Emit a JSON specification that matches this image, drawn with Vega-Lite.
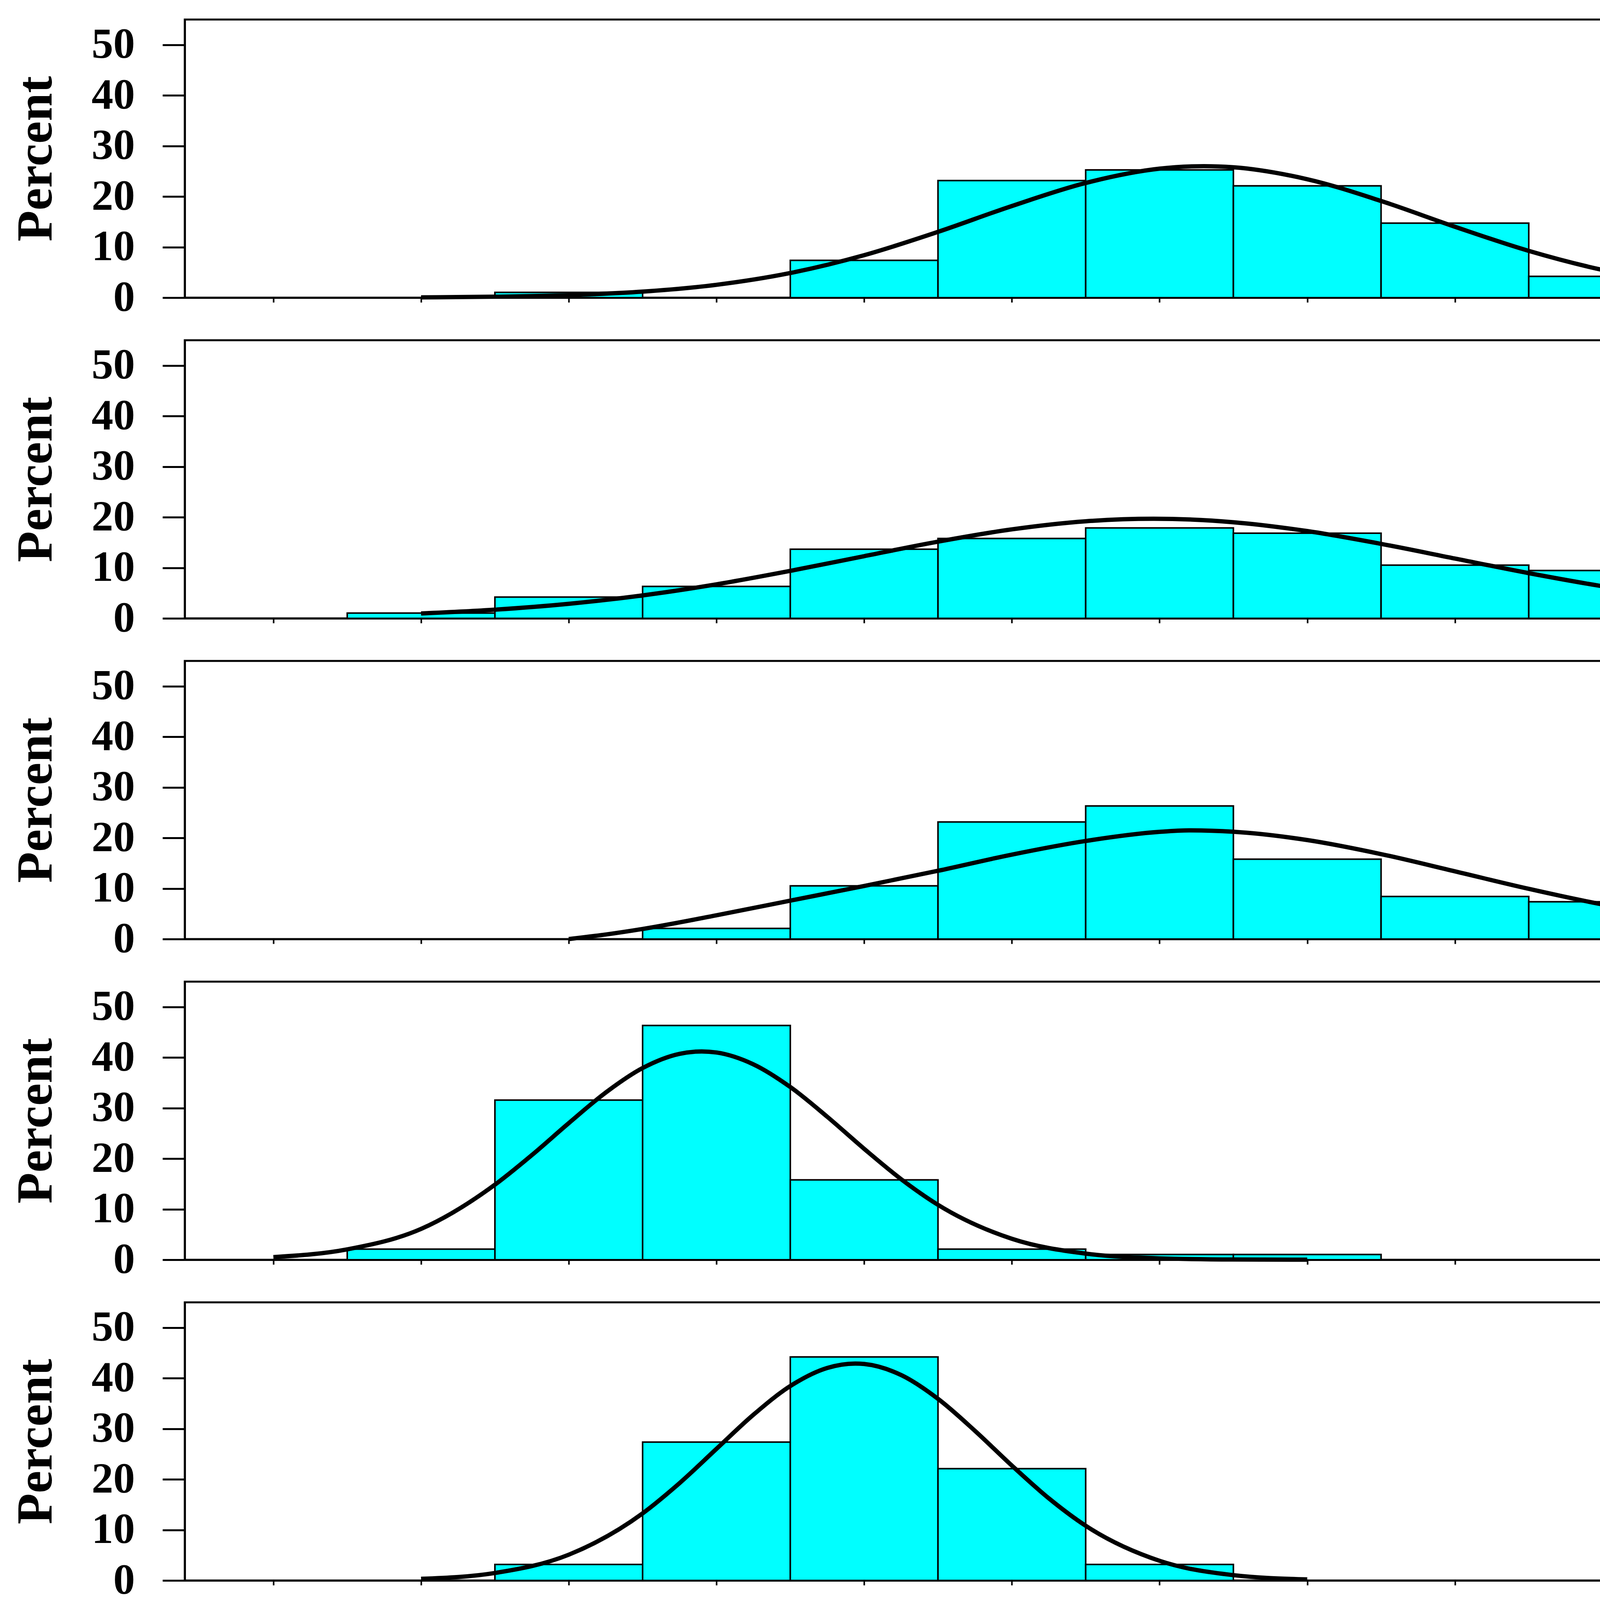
{
  "$schema": "https://vega.github.io/schema/vega-lite/v6.json",
  "background": "white",
  "padding": {"left": 24, "top": 47, "right": 20, "bottom": 10},
  "config": {
    "font": "Liberation Serif",
    "view": {"stroke": "black", "strokeWidth": 5},
    "concat": {"spacing": 48},
    "axis": {
      "grid": false,
      "domainColor": "black",
      "domainWidth": 5,
      "tickColor": "black",
      "labelColor": "black",
      "titleColor": "black",
      "labelFont": "Liberation Serif",
      "titleFont": "Liberation Serif",
      "labelFontWeight": "bold",
      "titleFontWeight": "bold",
      "labelLimit": 0,
      "format": "d"
    }
  },
  "datasets": {
    "bars": [
      {"year": 2013, "lo": 17.5, "hi": 22.5, "pct": 1.05},
      {"year": 2013, "lo": 27.5, "hi": 32.5, "pct": 7.37},
      {"year": 2013, "lo": 32.5, "hi": 37.5, "pct": 23.16},
      {"year": 2013, "lo": 37.5, "hi": 42.5, "pct": 25.26},
      {"year": 2013, "lo": 42.5, "hi": 47.5, "pct": 22.11},
      {"year": 2013, "lo": 47.5, "hi": 52.5, "pct": 14.74},
      {"year": 2013, "lo": 52.5, "hi": 57.5, "pct": 4.21},
      {"year": 2013, "lo": 62.5, "hi": 67.5, "pct": 1.05},
      {"year": 2013, "lo": 67.5, "hi": 72.5, "pct": 1.05},
      {"year": 2014, "lo": 12.5, "hi": 17.5, "pct": 1.05},
      {"year": 2014, "lo": 17.5, "hi": 22.5, "pct": 4.21},
      {"year": 2014, "lo": 22.5, "hi": 27.5, "pct": 6.32},
      {"year": 2014, "lo": 27.5, "hi": 32.5, "pct": 13.68},
      {"year": 2014, "lo": 32.5, "hi": 37.5, "pct": 15.79},
      {"year": 2014, "lo": 37.5, "hi": 42.5, "pct": 17.89},
      {"year": 2014, "lo": 42.5, "hi": 47.5, "pct": 16.84},
      {"year": 2014, "lo": 47.5, "hi": 52.5, "pct": 10.53},
      {"year": 2014, "lo": 52.5, "hi": 57.5, "pct": 9.47},
      {"year": 2014, "lo": 57.5, "hi": 62.5, "pct": 4.21},
      {"year": 2015, "lo": 22.5, "hi": 27.5, "pct": 2.11},
      {"year": 2015, "lo": 27.5, "hi": 32.5, "pct": 10.53},
      {"year": 2015, "lo": 32.5, "hi": 37.5, "pct": 23.16},
      {"year": 2015, "lo": 37.5, "hi": 42.5, "pct": 26.32},
      {"year": 2015, "lo": 42.5, "hi": 47.5, "pct": 15.79},
      {"year": 2015, "lo": 47.5, "hi": 52.5, "pct": 8.42},
      {"year": 2015, "lo": 52.5, "hi": 57.5, "pct": 7.37},
      {"year": 2015, "lo": 57.5, "hi": 62.5, "pct": 4.21},
      {"year": 2015, "lo": 62.5, "hi": 67.5, "pct": 1.05},
      {"year": 2015, "lo": 67.5, "hi": 72.5, "pct": 1.05},
      {"year": 2016, "lo": 12.5, "hi": 17.5, "pct": 2.11},
      {"year": 2016, "lo": 17.5, "hi": 22.5, "pct": 31.58},
      {"year": 2016, "lo": 22.5, "hi": 27.5, "pct": 46.32},
      {"year": 2016, "lo": 27.5, "hi": 32.5, "pct": 15.79},
      {"year": 2016, "lo": 32.5, "hi": 37.5, "pct": 2.11},
      {"year": 2016, "lo": 37.5, "hi": 42.5, "pct": 1.05},
      {"year": 2016, "lo": 42.5, "hi": 47.5, "pct": 1.05},
      {"year": 2017, "lo": 17.5, "hi": 22.5, "pct": 3.16},
      {"year": 2017, "lo": 22.5, "hi": 27.5, "pct": 27.37},
      {"year": 2017, "lo": 27.5, "hi": 32.5, "pct": 44.21},
      {"year": 2017, "lo": 32.5, "hi": 37.5, "pct": 22.11},
      {"year": 2017, "lo": 37.5, "hi": 42.5, "pct": 3.16}
    ],
    "curve": [
      {"year": 2013, "x": 15, "y": 0.06},
      {"year": 2013, "x": 17.5, "y": 0.19},
      {"year": 2013, "x": 20, "y": 0.5},
      {"year": 2013, "x": 22.5, "y": 1.19},
      {"year": 2013, "x": 25, "y": 2.54},
      {"year": 2013, "x": 27.5, "y": 4.87},
      {"year": 2013, "x": 30, "y": 8.4},
      {"year": 2013, "x": 32.5, "y": 13.01},
      {"year": 2013, "x": 35, "y": 18.12},
      {"year": 2013, "x": 37.5, "y": 22.68},
      {"year": 2013, "x": 40, "y": 25.51},
      {"year": 2013, "x": 41.5, "y": 26.0},
      {"year": 2013, "x": 42.5, "y": 25.78},
      {"year": 2013, "x": 45, "y": 23.42},
      {"year": 2013, "x": 47.5, "y": 19.12},
      {"year": 2013, "x": 50, "y": 14.02},
      {"year": 2013, "x": 52.5, "y": 9.25},
      {"year": 2013, "x": 55, "y": 5.48},
      {"year": 2013, "x": 57.5, "y": 2.92},
      {"year": 2013, "x": 60, "y": 1.4},
      {"year": 2013, "x": 62.5, "y": 0.6},
      {"year": 2013, "x": 65, "y": 0.23},
      {"year": 2013, "x": 67.5, "y": 0.08},
      {"year": 2013, "x": 70, "y": 0.03},
      {"year": 2013, "x": 72.5, "y": 0.01},
      {"year": 2013, "x": 75, "y": 0.0},
      {"year": 2014, "x": 15, "y": 0.97},
      {"year": 2014, "x": 17.5, "y": 1.72},
      {"year": 2014, "x": 20, "y": 2.88},
      {"year": 2014, "x": 22.5, "y": 4.54},
      {"year": 2014, "x": 25, "y": 6.73},
      {"year": 2014, "x": 27.5, "y": 9.39},
      {"year": 2014, "x": 30, "y": 12.3},
      {"year": 2014, "x": 32.5, "y": 15.17},
      {"year": 2014, "x": 35, "y": 17.6},
      {"year": 2014, "x": 37.5, "y": 19.2},
      {"year": 2014, "x": 39.8, "y": 19.7},
      {"year": 2014, "x": 42.5, "y": 19.01},
      {"year": 2014, "x": 45, "y": 17.26},
      {"year": 2014, "x": 47.5, "y": 14.73},
      {"year": 2014, "x": 50, "y": 11.83},
      {"year": 2014, "x": 52.5, "y": 8.94},
      {"year": 2014, "x": 55, "y": 6.35},
      {"year": 2014, "x": 57.5, "y": 4.24},
      {"year": 2014, "x": 60, "y": 2.67},
      {"year": 2014, "x": 62.5, "y": 1.58},
      {"year": 2014, "x": 65, "y": 0.88},
      {"year": 2015, "x": 20, "y": 0.0},
      {"year": 2015, "x": 21.25, "y": 0.9},
      {"year": 2015, "x": 22.5, "y": 2.0},
      {"year": 2015, "x": 25, "y": 4.7},
      {"year": 2015, "x": 27.5, "y": 7.6},
      {"year": 2015, "x": 30, "y": 10.5},
      {"year": 2015, "x": 32.5, "y": 13.5},
      {"year": 2015, "x": 35, "y": 16.7},
      {"year": 2015, "x": 37.5, "y": 19.4},
      {"year": 2015, "x": 40, "y": 21.2},
      {"year": 2015, "x": 41, "y": 21.5},
      {"year": 2015, "x": 42.5, "y": 21.22},
      {"year": 2015, "x": 45, "y": 19.58},
      {"year": 2015, "x": 47.5, "y": 16.8},
      {"year": 2015, "x": 50, "y": 13.39},
      {"year": 2015, "x": 52.5, "y": 9.93},
      {"year": 2015, "x": 55, "y": 6.84},
      {"year": 2015, "x": 57.5, "y": 4.38},
      {"year": 2015, "x": 60, "y": 2.61},
      {"year": 2015, "x": 62.5, "y": 1.44},
      {"year": 2015, "x": 65, "y": 0.74},
      {"year": 2015, "x": 67.5, "y": 0.35},
      {"year": 2015, "x": 70, "y": 0.16},
      {"year": 2016, "x": 10, "y": 0.52},
      {"year": 2016, "x": 12.5, "y": 2.06},
      {"year": 2016, "x": 15, "y": 6.1},
      {"year": 2016, "x": 17.5, "y": 14.85},
      {"year": 2016, "x": 18.75, "y": 20.7},
      {"year": 2016, "x": 20, "y": 27.02},
      {"year": 2016, "x": 21.25, "y": 33.06},
      {"year": 2016, "x": 22.5, "y": 37.91},
      {"year": 2016, "x": 23.75, "y": 40.72},
      {"year": 2016, "x": 24.5, "y": 41.2},
      {"year": 2016, "x": 25, "y": 40.99},
      {"year": 2016, "x": 26.25, "y": 38.65},
      {"year": 2016, "x": 27.5, "y": 34.16},
      {"year": 2016, "x": 28.75, "y": 28.28},
      {"year": 2016, "x": 30, "y": 21.94},
      {"year": 2016, "x": 31.25, "y": 15.95},
      {"year": 2016, "x": 32.5, "y": 10.86},
      {"year": 2016, "x": 35, "y": 4.15},
      {"year": 2016, "x": 37.5, "y": 1.22},
      {"year": 2016, "x": 40, "y": 0.28},
      {"year": 2016, "x": 42.5, "y": 0.05},
      {"year": 2016, "x": 45, "y": 0.01},
      {"year": 2017, "x": 15, "y": 0.32},
      {"year": 2017, "x": 17.5, "y": 1.48},
      {"year": 2017, "x": 20, "y": 5.1},
      {"year": 2017, "x": 22.5, "y": 13.27},
      {"year": 2017, "x": 23.75, "y": 19.25},
      {"year": 2017, "x": 25, "y": 26.02},
      {"year": 2017, "x": 26.25, "y": 32.77},
      {"year": 2017, "x": 27.5, "y": 38.45},
      {"year": 2017, "x": 28.75, "y": 42.03},
      {"year": 2017, "x": 29.7, "y": 42.9},
      {"year": 2017, "x": 30, "y": 42.81},
      {"year": 2017, "x": 31.25, "y": 40.63},
      {"year": 2017, "x": 32.5, "y": 35.92},
      {"year": 2017, "x": 33.75, "y": 29.6},
      {"year": 2017, "x": 35, "y": 22.72},
      {"year": 2017, "x": 36.25, "y": 16.25},
      {"year": 2017, "x": 37.5, "y": 10.82},
      {"year": 2017, "x": 40, "y": 3.89},
      {"year": 2017, "x": 42.5, "y": 1.05},
      {"year": 2017, "x": 45, "y": 0.21}
    ],
    "stats": [
      {"year": 2013, "labels": "Year\nN\nMean\nStd Dev", "values": "2013\n95\n42\n7.6"},
      {"year": 2014, "labels": "Year\nN\nMean\nStd Dev", "values": "2014\n95\n40\n10.1"},
      {"year": 2015, "labels": "Year\nN\nMean\nStd Dev", "values": "2015\n95\n42\n9.2"},
      {"year": 2016, "labels": "Year\nN\nMean\nStd Dev", "values": "2016\n95\n24\n4.6"},
      {"year": 2017, "labels": "Year\nN\nMean\nStd Dev", "values": "2017\n95\n30\n4.4"}
    ]
  },
  "vconcat": [
    {
      "width": 5747, "height": 712,
      "layer": [
        {"data": {"name": "bars"}, "transform": [{"filter": "datum.year == 2013"}],
         "mark": {"type": "rect", "fill": "#00FFFF", "stroke": "black", "strokeWidth": 4},
         "encoding": {
           "x": {"field": "lo", "type": "quantitative", "scale": {"domain": [7, 83], "nice": false, "zero": false},
                 "axis": {"values": [10,15,20,25,30,35,40,45,50,55,60,65,70,75,80], "labels": false, "title": null, "tickSize": 12, "tickWidth": 4}},
           "x2": {"field": "hi"},
           "y": {"field": "pct", "type": "quantitative", "scale": {"domain": [0, 55], "nice": false},
                 "axis": {"values": [0,10,20,30,40,50], "title": "Percent", "tickSize": 57, "tickWidth": 5, "labelFontSize": 111, "labelPadding": 71, "titleFontSize": 130, "titlePadding": 115}},
           "y2": {"datum": 0}
         }},
        {"data": {"name": "curve"}, "transform": [{"filter": "datum.year == 2013"}],
         "mark": {"type": "line", "color": "black", "strokeWidth": 11, "interpolate": "monotone"},
         "encoding": {"x": {"field": "x", "type": "quantitative"}, "y": {"field": "y", "type": "quantitative"}}},
        {"data": {"name": "stats"}, "transform": [{"filter": "datum.year == 2013"}],
         "mark": {"type": "text", "align": "left", "baseline": "alphabetic", "lineBreak": "\n", "lineHeight": 131, "fontSize": 113, "fontWeight": "bold", "color": "black"},
         "encoding": {"x": {"datum": 72.45}, "y": {"datum": 43.9}, "text": {"field": "labels"}}},
        {"data": {"name": "stats"}, "transform": [{"filter": "datum.year == 2013"}],
         "mark": {"type": "text", "align": "right", "baseline": "alphabetic", "lineBreak": "\n", "lineHeight": 131, "fontSize": 113, "fontWeight": "bold", "color": "black"},
         "encoding": {"x": {"datum": 81.3}, "y": {"datum": 43.9}, "text": {"field": "values"}}}
      ]
    },
    {
      "width": 5747, "height": 712,
      "layer": [
        {"data": {"name": "bars"}, "transform": [{"filter": "datum.year == 2014"}],
         "mark": {"type": "rect", "fill": "#00FFFF", "stroke": "black", "strokeWidth": 4},
         "encoding": {
           "x": {"field": "lo", "type": "quantitative", "scale": {"domain": [7, 83], "nice": false, "zero": false},
                 "axis": {"values": [10,15,20,25,30,35,40,45,50,55,60,65,70,75,80], "labels": false, "title": null, "tickSize": 12, "tickWidth": 4}},
           "x2": {"field": "hi"},
           "y": {"field": "pct", "type": "quantitative", "scale": {"domain": [0, 55], "nice": false},
                 "axis": {"values": [0,10,20,30,40,50], "title": "Percent", "tickSize": 57, "tickWidth": 5, "labelFontSize": 111, "labelPadding": 71, "titleFontSize": 130, "titlePadding": 115}},
           "y2": {"datum": 0}
         }},
        {"data": {"name": "curve"}, "transform": [{"filter": "datum.year == 2014"}],
         "mark": {"type": "line", "color": "black", "strokeWidth": 11, "interpolate": "monotone"},
         "encoding": {"x": {"field": "x", "type": "quantitative"}, "y": {"field": "y", "type": "quantitative"}}},
        {"data": {"name": "stats"}, "transform": [{"filter": "datum.year == 2014"}],
         "mark": {"type": "text", "align": "left", "baseline": "alphabetic", "lineBreak": "\n", "lineHeight": 131, "fontSize": 113, "fontWeight": "bold", "color": "black"},
         "encoding": {"x": {"datum": 72.45}, "y": {"datum": 43.9}, "text": {"field": "labels"}}},
        {"data": {"name": "stats"}, "transform": [{"filter": "datum.year == 2014"}],
         "mark": {"type": "text", "align": "right", "baseline": "alphabetic", "lineBreak": "\n", "lineHeight": 131, "fontSize": 113, "fontWeight": "bold", "color": "black"},
         "encoding": {"x": {"datum": 81.3}, "y": {"datum": 43.9}, "text": {"field": "values"}}}
      ]
    },
    {
      "width": 5747, "height": 712,
      "layer": [
        {"data": {"name": "bars"}, "transform": [{"filter": "datum.year == 2015"}],
         "mark": {"type": "rect", "fill": "#00FFFF", "stroke": "black", "strokeWidth": 4},
         "encoding": {
           "x": {"field": "lo", "type": "quantitative", "scale": {"domain": [7, 83], "nice": false, "zero": false},
                 "axis": {"values": [10,15,20,25,30,35,40,45,50,55,60,65,70,75,80], "labels": false, "title": null, "tickSize": 12, "tickWidth": 4}},
           "x2": {"field": "hi"},
           "y": {"field": "pct", "type": "quantitative", "scale": {"domain": [0, 55], "nice": false},
                 "axis": {"values": [0,10,20,30,40,50], "title": "Percent", "tickSize": 57, "tickWidth": 5, "labelFontSize": 111, "labelPadding": 71, "titleFontSize": 130, "titlePadding": 115}},
           "y2": {"datum": 0}
         }},
        {"data": {"name": "curve"}, "transform": [{"filter": "datum.year == 2015"}],
         "mark": {"type": "line", "color": "black", "strokeWidth": 11, "interpolate": "monotone"},
         "encoding": {"x": {"field": "x", "type": "quantitative"}, "y": {"field": "y", "type": "quantitative"}}},
        {"data": {"name": "stats"}, "transform": [{"filter": "datum.year == 2015"}],
         "mark": {"type": "text", "align": "left", "baseline": "alphabetic", "lineBreak": "\n", "lineHeight": 131, "fontSize": 113, "fontWeight": "bold", "color": "black"},
         "encoding": {"x": {"datum": 72.45}, "y": {"datum": 43.9}, "text": {"field": "labels"}}},
        {"data": {"name": "stats"}, "transform": [{"filter": "datum.year == 2015"}],
         "mark": {"type": "text", "align": "right", "baseline": "alphabetic", "lineBreak": "\n", "lineHeight": 131, "fontSize": 113, "fontWeight": "bold", "color": "black"},
         "encoding": {"x": {"datum": 81.3}, "y": {"datum": 43.9}, "text": {"field": "values"}}}
      ]
    },
    {
      "width": 5747, "height": 712,
      "layer": [
        {"data": {"name": "bars"}, "transform": [{"filter": "datum.year == 2016"}],
         "mark": {"type": "rect", "fill": "#00FFFF", "stroke": "black", "strokeWidth": 4},
         "encoding": {
           "x": {"field": "lo", "type": "quantitative", "scale": {"domain": [7, 83], "nice": false, "zero": false},
                 "axis": {"values": [10,15,20,25,30,35,40,45,50,55,60,65,70,75,80], "labels": false, "title": null, "tickSize": 12, "tickWidth": 4}},
           "x2": {"field": "hi"},
           "y": {"field": "pct", "type": "quantitative", "scale": {"domain": [0, 55], "nice": false},
                 "axis": {"values": [0,10,20,30,40,50], "title": "Percent", "tickSize": 57, "tickWidth": 5, "labelFontSize": 111, "labelPadding": 71, "titleFontSize": 130, "titlePadding": 115}},
           "y2": {"datum": 0}
         }},
        {"data": {"name": "curve"}, "transform": [{"filter": "datum.year == 2016"}],
         "mark": {"type": "line", "color": "black", "strokeWidth": 11, "interpolate": "monotone"},
         "encoding": {"x": {"field": "x", "type": "quantitative"}, "y": {"field": "y", "type": "quantitative"}}},
        {"data": {"name": "stats"}, "transform": [{"filter": "datum.year == 2016"}],
         "mark": {"type": "text", "align": "left", "baseline": "alphabetic", "lineBreak": "\n", "lineHeight": 131, "fontSize": 113, "fontWeight": "bold", "color": "black"},
         "encoding": {"x": {"datum": 72.45}, "y": {"datum": 43.9}, "text": {"field": "labels"}}},
        {"data": {"name": "stats"}, "transform": [{"filter": "datum.year == 2016"}],
         "mark": {"type": "text", "align": "right", "baseline": "alphabetic", "lineBreak": "\n", "lineHeight": 131, "fontSize": 113, "fontWeight": "bold", "color": "black"},
         "encoding": {"x": {"datum": 81.3}, "y": {"datum": 43.9}, "text": {"field": "values"}}}
      ]
    },
    {
      "width": 5747, "height": 712,
      "layer": [
        {"data": {"name": "bars"}, "transform": [{"filter": "datum.year == 2017"}],
         "mark": {"type": "rect", "fill": "#00FFFF", "stroke": "black", "strokeWidth": 4},
         "encoding": {
           "x": {"field": "lo", "type": "quantitative", "scale": {"domain": [7, 83], "nice": false, "zero": false},
                 "axis": {"values": [10,15,20,25,30,35,40,45,50,55,60,65,70,75,80], "title": "Sucrose concentration of leaf sap (grams of sucrose per kilogram of leaf sap)", "tickSize": 12, "tickWidth": 4, "labelFontSize": 111, "labelPadding": 67, "titleFontSize": 133, "titlePadding": 93}},
           "x2": {"field": "hi"},
           "y": {"field": "pct", "type": "quantitative", "scale": {"domain": [0, 55], "nice": false},
                 "axis": {"values": [0,10,20,30,40,50], "title": "Percent", "tickSize": 57, "tickWidth": 5, "labelFontSize": 111, "labelPadding": 71, "titleFontSize": 130, "titlePadding": 115}},
           "y2": {"datum": 0}
         }},
        {"data": {"name": "curve"}, "transform": [{"filter": "datum.year == 2017"}],
         "mark": {"type": "line", "color": "black", "strokeWidth": 11, "interpolate": "monotone"},
         "encoding": {"x": {"field": "x", "type": "quantitative"}, "y": {"field": "y", "type": "quantitative"}}},
        {"data": {"name": "stats"}, "transform": [{"filter": "datum.year == 2017"}],
         "mark": {"type": "text", "align": "left", "baseline": "alphabetic", "lineBreak": "\n", "lineHeight": 131, "fontSize": 113, "fontWeight": "bold", "color": "black"},
         "encoding": {"x": {"datum": 72.45}, "y": {"datum": 43.9}, "text": {"field": "labels"}}},
        {"data": {"name": "stats"}, "transform": [{"filter": "datum.year == 2017"}],
         "mark": {"type": "text", "align": "right", "baseline": "alphabetic", "lineBreak": "\n", "lineHeight": 131, "fontSize": 113, "fontWeight": "bold", "color": "black"},
         "encoding": {"x": {"datum": 81.3}, "y": {"datum": 43.9}, "text": {"field": "values"}}}
      ]
    }
  ]
}
